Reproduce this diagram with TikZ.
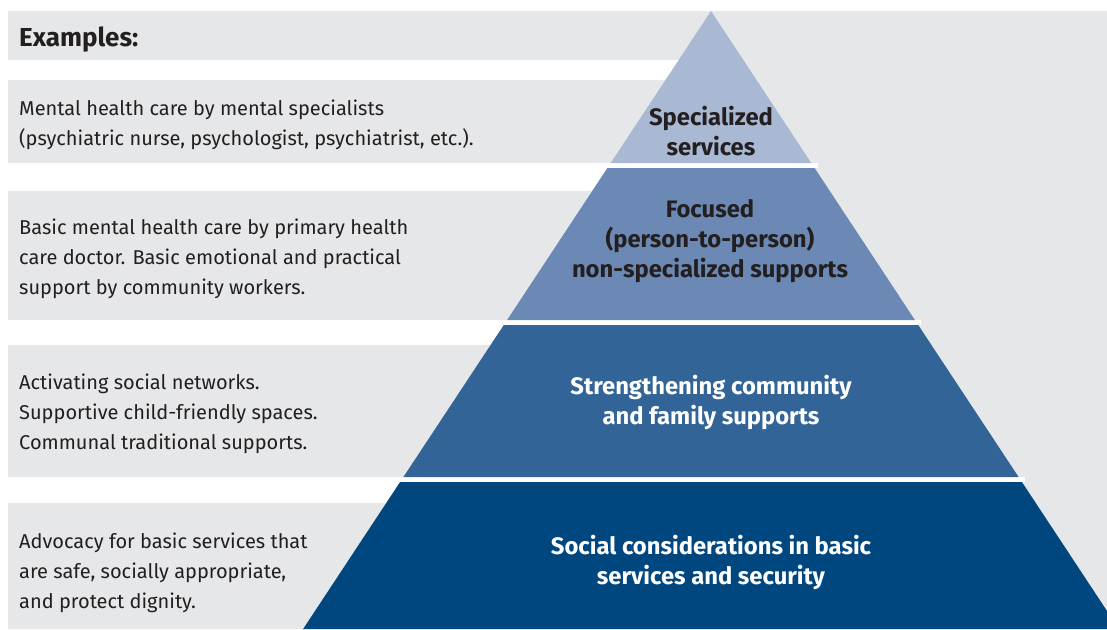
\documentclass[tikz,border=0pt]{standalone}
\usepackage{fontspec}
\setmainfont{Fira Sans}
\definecolor{bandgray}{HTML}{E6E7E8}
\definecolor{textdark}{HTML}{231F20}
\definecolor{tierA}{HTML}{A9B9D4}
\definecolor{tierB}{HTML}{6B89B4}
\definecolor{tierC}{HTML}{326497}
\definecolor{tierD}{HTML}{00467F}
\tikzset{
  lefttext/.style={anchor=west, align=left, inner sep=0pt, text=textdark,
    font=\fontsize{20}{30}\selectfont},
  headtext/.style={anchor=west, inner sep=0pt, text=textdark,
    font=\bfseries\fontsize{26}{30}\selectfont},
  tiertext/.style={align=center, inner sep=0pt,
    font=\bfseries\fontsize{23.8}{30}\selectfont},
  darktier/.style={tiertext, text=textdark},
  lighttier/.style={tiertext, text=white},
}
\begin{document}
\begin{tikzpicture}[x=1pt,y=-1pt]
\useasboundingbox (0,0) rectangle (1107,629);
\clip (0,0) rectangle (1107,629);
% background bands
\fill[bandgray] (711,11) rectangle (1107,629);
\fill[bandgray] (8,11) rectangle (711,60);
\fill[bandgray] (8,80) rectangle (711,163);
\fill[bandgray] (8,191) rectangle (711,320);
\fill[bandgray] (8,345) rectangle (711,477);
\fill[bandgray] (8,503) rectangle (711,629);
% white gaps between tiers
\fill[white] (700,163) rectangle (818,168);
\fill[white] (700,320) rectangle (921,325);
\fill[white] (700,477) rectangle (1025,482);
% pyramid tiers
\fill[tierA] (711,11) -- (811.3,163) -- (610.7,163) -- cycle;
\fill[tierB] (607.4,168) -- (814.6,168) -- (914.9,320) -- (507.1,320) -- cycle;
\fill[tierC] (503.8,325) -- (918.2,325) -- (1018.6,477) -- (403.4,477) -- cycle;
\fill[tierD] (400.1,482) -- (1021.9,482) -- (1118.9,629) -- (303.1,629) -- cycle;
% left texts
\node[headtext] (ex) at (19,40) {Examples:};
\node[lefttext] (t1) at (19,125) {Mental health care by mental specialists\\(psychiatric nurse, psychologist, psychiatrist, etc.).};
\node[lefttext] (t2) at (19,259) {Basic mental health care by primary health\\care doctor. Basic emotional and practical\\support by community workers.};
\node[lefttext] (t3) at (19,414) {Activating social networks.\\Supportive child-friendly spaces.\\Communal traditional supports.};
\node[lefttext] (t4) at (19,573) {Advocacy for basic services that\\are safe, socially appropriate,\\and protect dignity.};
% pyramid texts
\node[darktier] (p1) at (711,131) {Specialized\\services};
\node[darktier] (p2) at (710,241) {Focused\\(person-to-person)\\non-specialized supports};
\node[lighttier] (p3) at (711,402) {Strengthening community\\and family supports};
\node[lighttier] (p4) at (711,562) {Social considerations in basic\\services and security};
\end{tikzpicture}
\end{document}
